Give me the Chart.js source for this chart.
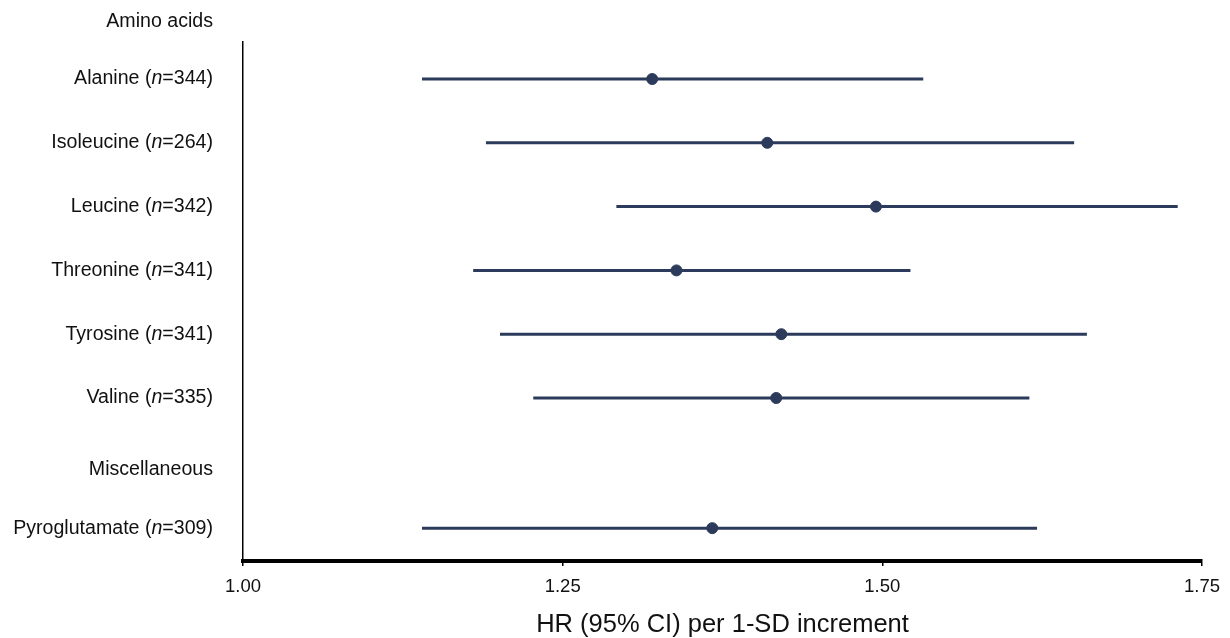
<!DOCTYPE html>
<html>
<head>
<meta charset="utf-8">
<script src="https://cdn.jsdelivr.net/npm/chart.js@4.4.1/dist/chart.umd.min.js"></script>
<style>
  html, body { margin: 0; background: #fff; }
  #wrap { width: 1230px; height: 638px; }
</style>
</head>
<body>
<div id="wrap"><canvas id="forest" width="1230" height="638"></canvas></div>
<script>
// Forest plot: HR per 1-SD increment
const groups = ['Amino acids', 'Miscellaneous'];
const groupRows = [0.1, 7.13];
const metabolites = ['Alanine', 'Isoleucine', 'Leucine', 'Threonine', 'Tyrosine', 'Valine', 'Pyroglutamate'];
const sampleSizes = [344, 264, 342, 341, 341, 335, 309];
const rows = [1, 2, 3, 4, 5, 6, 8.04];
const hr = [1.320, 1.410, 1.495, 1.339, 1.421, 1.417, 1.367];
const ciLow = [1.140, 1.190, 1.292, 1.180, 1.201, 1.227, 1.140];
const ciHigh = [1.532, 1.650, 1.731, 1.522, 1.660, 1.615, 1.621];
const xTicks = [1.00, 1.25, 1.50, 1.75];

const NAVY = '#2c3a5b';
const FONT = '"Liberation Sans", Arial, Helvetica, sans-serif';

// one line dataset per confidence interval
const ciSets = metabolites.map((m, i) => ({
    type: 'line',
    label: m + ' CI',
    data: [{ x: ciLow[i], y: rows[i] }, { x: ciHigh[i], y: rows[i] }],
    borderColor: NAVY,
    borderWidth: 3,
    pointRadius: 0,
    fill: false,
}));

const rowLabels = {
    id: 'rowLabels',
    afterDraw(chart) {
        const ctx = chart.ctx;
        const y = chart.scales.y;
        const xr = chart.chartArea.left - 30;
        const normal = '19.6px ' + FONT;
        const italic = 'italic 19.6px ' + FONT;
        ctx.save();
        ctx.fillStyle = '#111';
        ctx.textBaseline = 'middle';
        ctx.textAlign = 'left';
        groups.forEach((g, i) => {
            ctx.font = normal;
            const w = ctx.measureText(g).width;
            ctx.fillText(g, xr - w, y.getPixelForValue(groupRows[i]));
        });
        metabolites.forEach((m, i) => {
            const py = y.getPixelForValue(rows[i]);
            const parts = [[m + ' (', normal], ['n', italic], ['=' + sampleSizes[i] + ')', normal]];
            let x = xr;
            for (let k = parts.length - 1; k >= 0; k--) {
                ctx.font = parts[k][1];
                x -= ctx.measureText(parts[k][0]).width;
                ctx.fillText(parts[k][0], x, py);
            }
        });
        ctx.restore();
    }
};

new Chart(document.getElementById('forest'), {
    type: 'scatter',
    data: {
        datasets: [...ciSets, {
            type: 'scatter',
            label: 'HR',
            data: hr.map((v, i) => ({ x: v, y: rows[i] })),
            backgroundColor: NAVY,
            borderColor: NAVY,
            pointRadius: 5.5,
        }]
    },
    options: {
        responsive: false,
        animation: false,
        events: [],
        layout: { padding: { left: 243, top: 42, right: 28, bottom: 0 } },
        plugins: { legend: { display: false }, tooltip: { enabled: false } },
        scales: {
            x: {
                type: 'linear',
                min: 1, max: 1.75,
                afterBuildTicks: s => { s.ticks = xTicks.map(v => ({ value: v })); },
                afterFit: s => { s.height = 77; },
                grid: { drawOnChartArea: false, drawTicks: true, tickLength: 5, color: '#000', lineWidth: 1.5 },
                border: { display: true, color: '#000', width: 4 },
                ticks: { color: '#111', padding: 10, font: { family: FONT, size: 18.5 }, callback: v => v.toFixed(2) },
                title: { display: true, text: 'HR (95% CI) per 1-SD increment', color: '#111',
                         font: { family: FONT, size: 25.5, lineHeight: 1.0 }, padding: { top: 0, bottom: 0 } }
            },
            y: {
                type: 'linear',
                reverse: true,
                min: 0.42, max: 8.555,
                afterFit: s => { s.width = 0; },
                grid: { display: false },
                ticks: { display: false },
                border: { display: true, color: '#000', width: 1.5 }
            }
        }
    },
    plugins: [rowLabels]
});
</script>
</body>
</html>
